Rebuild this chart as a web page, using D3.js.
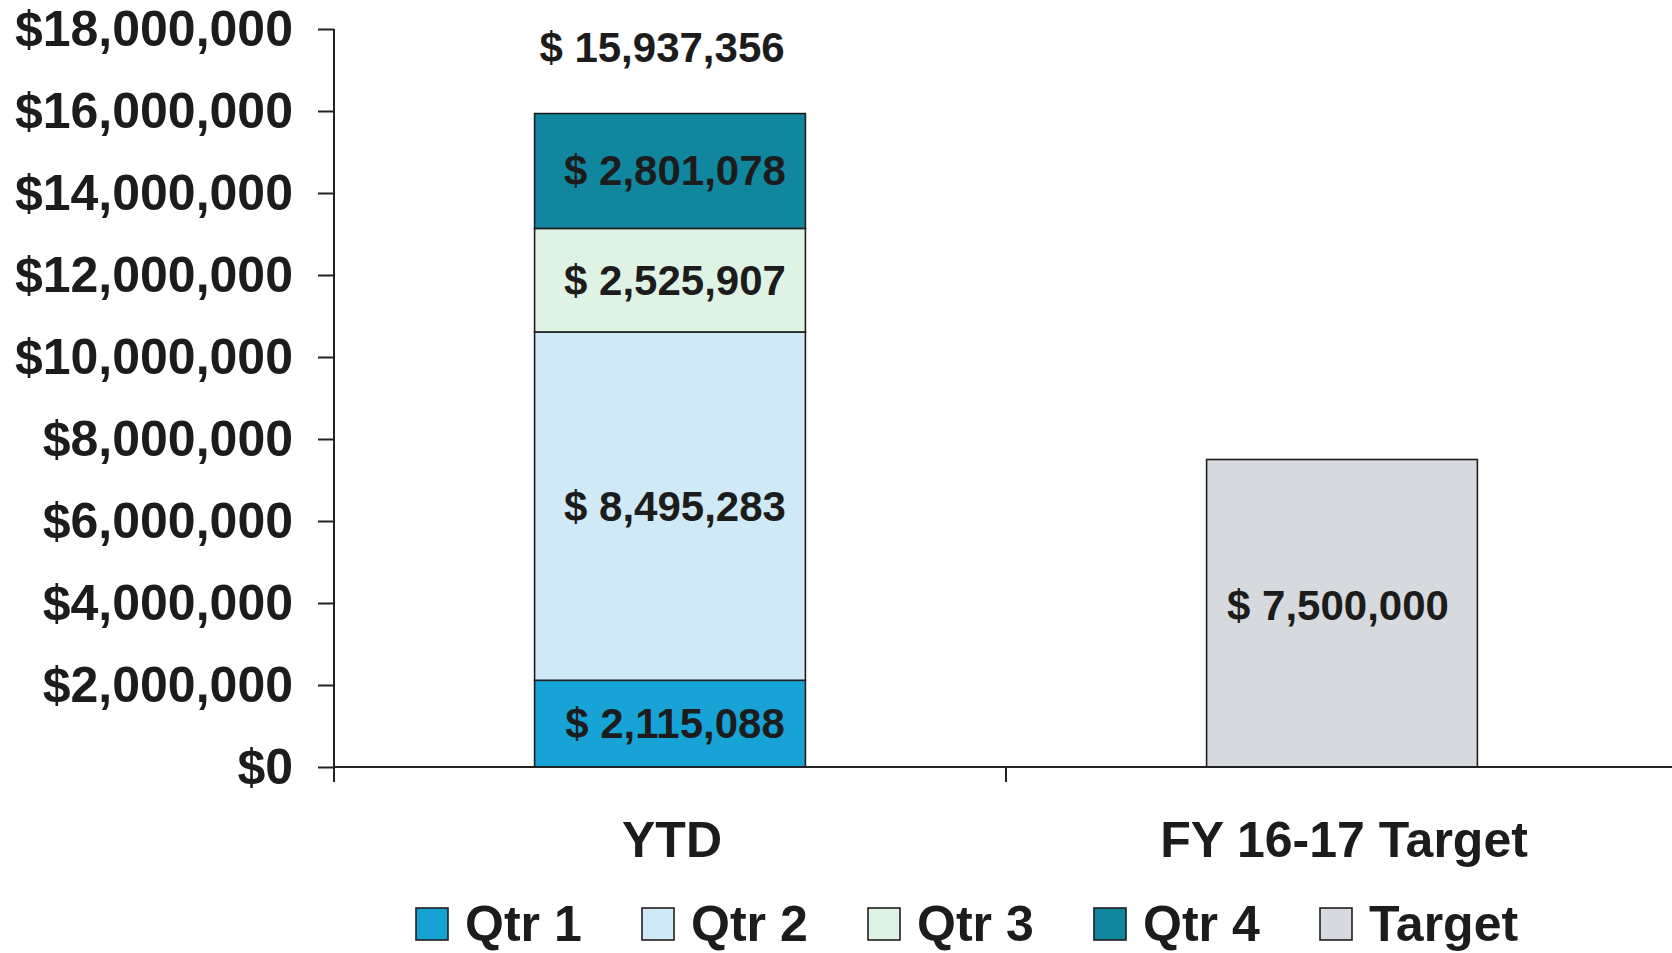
<!DOCTYPE html>
<html>
<head>
<meta charset="utf-8">
<script src="https://cdn.jsdelivr.net/npm/d3@7"></script>
<style>
  html, body { margin: 0; padding: 0; background: #fff; }
  svg text { font-family: "Liberation Sans", Arial, sans-serif; font-weight: bold; fill: #1c1c1c; }
</style>
</head>
<body>
<div id="chart"></div>
<script>
"use strict";

const categories = ["YTD", "FY 16-17 Target"];
const seriesKeys = ["Qtr 1", "Qtr 2", "Qtr 3", "Qtr 4", "Target"];
const ytdValues = [2115088, 8495283, 2525907, 2801078, 0];
const targetValues = [0, 0, 0, 0, 7500000];
const ytdTotal = 15937356;
const yTickValues = [0, 2000000, 4000000, 6000000, 8000000, 10000000, 12000000, 14000000, 16000000, 18000000];
const seriesColors = ["#17a3d5", "#cfe9f6", "#dff3e4", "#10879e", "#d6d9de"];

const width = 1672;
const height = 953;
const margin = { top: 29, left: 334, bottom: 186 };
const baseline = height - margin.bottom;

const rows = categories.map((c, i) => {
    const vals = i === 0 ? ytdValues : targetValues;
    const row = { category: c };
    seriesKeys.forEach((k, j) => row[k] = vals[j]);
    return row;
});

const stacked = d3.stack().keys(seriesKeys)(rows);

const xScale = d3.scaleBand()
                 .domain(categories)
                 .range([margin.left, 1678])
                 .paddingInner(0.597)
                 .paddingOuter(0.597 / 2);
const slot = d3.scaleBand()
               .domain(categories)
               .range([margin.left, 1678]);
const yScale = d3.scaleLinear()
                 .domain([0, 18000000])
                 .range([baseline, margin.top]);
const color = d3.scaleOrdinal().domain(seriesKeys).range(seriesColors);
const fmtMoney = d => "$ " + d3.format(",")(d);

const svg = d3.select("#chart").append("svg")
              .attr("width", width)
              .attr("height", height);

// bars
const layers = svg.append("g").selectAll("g")
                  .data(stacked).enter()
                  .append("g")
                  .attr("fill", d => color(d.key));
layers.selectAll("rect")
      .data(d => d.filter(s => s[1] - s[0] > 0))
      .enter().append("rect")
      .attr("x", d => xScale(d.data.category))
      .attr("width", xScale.bandwidth())
      .attr("y", d => yScale(d[1]))
      .attr("height", d => yScale(d[0]) - yScale(d[1]))
      .attr("stroke", "#1e1e1e")
      .attr("stroke-width", 1.6);

// segment labels
layers.selectAll("text")
      .data(d => d.filter(s => s[1] - s[0] > 0))
      .enter().append("text")
      .attr("text-anchor", "middle")
      .attr("dominant-baseline", "central")
      .attr("font-size", 42)
      .attr("x", d => xScale(d.data.category) + xScale.bandwidth() / 2 + (d.data.category === "YTD" ? 5 : -4))
      .attr("y", d => (yScale(d[0]) + yScale(d[1])) / 2 + (d.data.category === "YTD" ? 0 : -8))
      .text(d => fmtMoney(d[1] - d[0]));

// total label above YTD
svg.append("text")
   .attr("text-anchor", "middle")
   .attr("dominant-baseline", "central")
   .attr("font-size", 42)
   .attr("x", xScale("YTD") + xScale.bandwidth() / 2 - 8)
   .attr("y", yScale(ytdTotal) - 66)
   .text(fmtMoney(ytdTotal));

// y axis
const yAxis = svg.append("g")
                 .attr("transform", `translate(${margin.left},0)`)
                 .call(d3.axisLeft(yScale)
                         .tickValues(yTickValues)
                         .tickSize(16)
                         .tickPadding(25)
                         .tickFormat(d3.format("$,.0f")));
yAxis.select(".domain").remove();
yAxis.selectAll(".tick line").attr("stroke", "#222").attr("stroke-width", 2);
yAxis.selectAll(".tick text").attr("font-size", 50).attr("fill", "#1c1c1c");
svg.append("line")
   .attr("x1", margin.left).attr("x2", margin.left)
   .attr("y1", yScale(18000000)).attr("y2", baseline + 15)
   .attr("stroke", "#222").attr("stroke-width", 2);

// x axis
svg.append("line")
   .attr("x1", margin.left).attr("x2", width)
   .attr("y1", baseline).attr("y2", baseline)
   .attr("stroke", "#222").attr("stroke-width", 2);
svg.append("g").selectAll("line")
   .data(categories.slice(1)).enter()
   .append("line")
   .attr("x1", d => slot(d)).attr("x2", d => slot(d))
   .attr("y1", baseline).attr("y2", baseline + 15)
   .attr("stroke", "#222").attr("stroke-width", 2);
svg.append("g").selectAll("text")
   .data(categories).enter()
   .append("text")
   .attr("text-anchor", "middle")
   .attr("dominant-baseline", "central")
   .attr("font-size", 50)
   .attr("x", d => slot(d) + slot.bandwidth() / 2 + 2)
   .attr("y", baseline + 73)
   .text(d => d);

// legend
const legend = svg.append("g").attr("transform", "translate(416,924)");
const items = legend.selectAll("g")
                    .data(seriesKeys).enter()
                    .append("g")
                    .attr("transform", (d, i) => `translate(${i * 226},0)`);
items.append("rect")
     .attr("x", 0).attr("y", -16)
     .attr("width", 32).attr("height", 32)
     .attr("fill", d => color(d))
     .attr("stroke", "#1e1e1e")
     .attr("stroke-width", 1.6);
items.append("text")
     .attr("x", 49)
     .attr("dominant-baseline", "central")
     .attr("font-size", 50)
     .text(d => d);
</script>
</body>
</html>
